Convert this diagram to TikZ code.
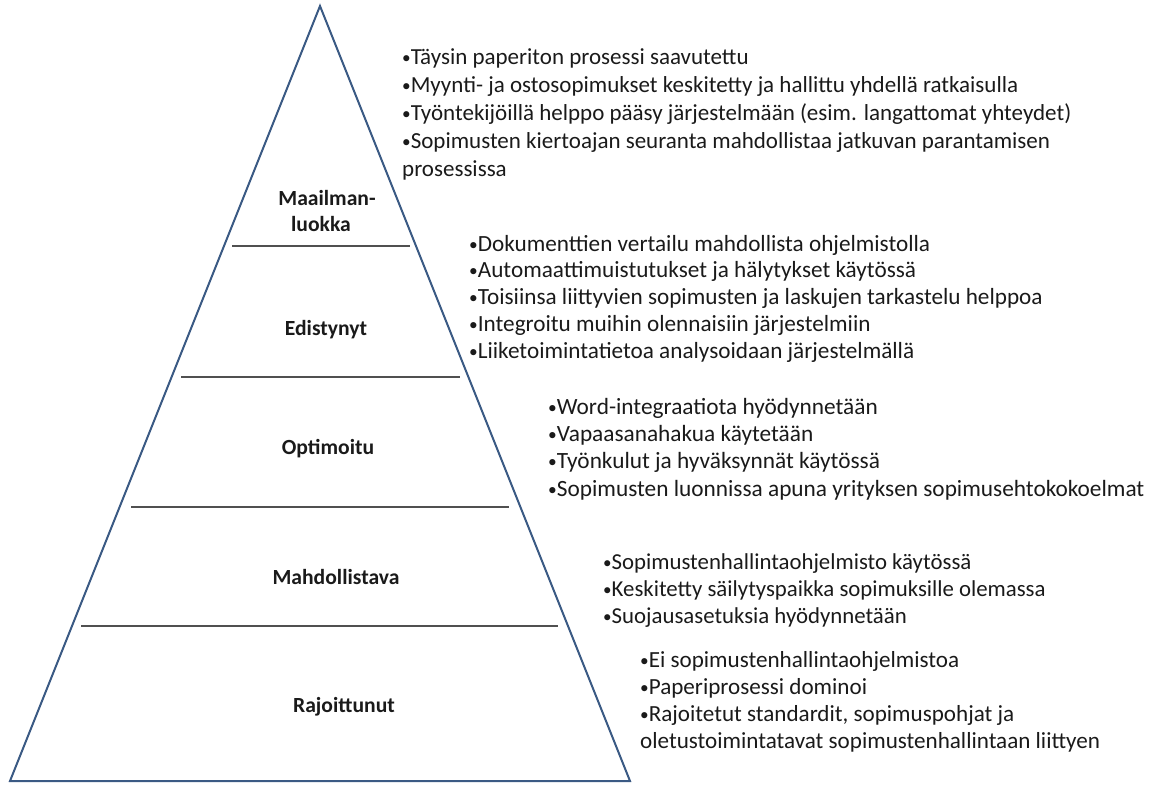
\documentclass[tikz,border=0pt]{standalone}
\usepackage{fontspec}
\usepackage{graphicx}
\setmainfont{Carlito}
\definecolor{tri}{HTML}{3B5A84}
\definecolor{divc}{HTML}{505050}
\definecolor{txt}{HTML}{1A1A1A}
\newcommand\bul{\raisebox{0.05ex}{\scalebox{0.75}{•}}}
\begin{document}
\begin{tikzpicture}[x=1pt,y=-1pt,
  lvl/.style={font=\fontsize{21.6}{25}\selectfont\bfseries, text=txt, inner sep=0, anchor=base},
  itemA/.style={font=\fontsize{23}{27}\selectfont, text=txt, inner sep=0, anchor=base west},
  itemB/.style={font=\fontsize{23.2}{27}\selectfont, text=txt, inner sep=0, anchor=base west},
  itemC/.style={font=\fontsize{23.3}{27}\selectfont, text=txt, inner sep=0, anchor=base west},
  itemD/.style={font=\fontsize{22.8}{27}\selectfont, text=txt, inner sep=0, anchor=base west},
  itemE/.style={font=\fontsize{23.1}{27}\selectfont, text=txt, inner sep=0, anchor=base west},
  divline/.style={draw=divc, line width=2.2pt},
]
\useasboundingbox (0,0) rectangle (1151,785);
\coordinate (apex) at (320,6);
\coordinate (bl) at (10,781);
\coordinate (br) at (630,781);
\draw[tri, line width=2pt, line join=miter] (apex) -- (br) -- (bl) -- cycle;
\coordinate (d1l) at (232,246); \coordinate (d1r) at (410,246);
\coordinate (d2l) at (181,377); \coordinate (d2r) at (460,377);
\coordinate (d3l) at (131,507); \coordinate (d3r) at (509,507);
\coordinate (d4l) at (81,626);  \coordinate (d4r) at (558,626);
\draw[divline] (d1l) -- (d1r);
\draw[divline] (d2l) -- (d2r);
\draw[divline] (d3l) -- (d3r);
\draw[divline] (d4l) -- (d4r);
% level labels
\node[lvl] (l5a) at (327,205) {Maailman-};
\node[lvl] (l5b) at (321,231) {luokka};
\node[lvl] (l4) at (326,335) {Edistynyt};
\node[lvl] (l3) at (328,454) {Optimoitu};
\node[lvl] (l2) at (336,584) {Mahdollistava};
\node[lvl] (l1) at (344,712) {Rajoittunut};
% block 1
\node[itemA] (a1) at (402,64) {\bul Täysin paperiton prosessi saavutettu};
\node[itemA] (a2) at (402,92) {\bul Myynti- ja ostosopimukset  keskitetty ja hallittu yhdellä ratkaisulla};
\node[itemA] (a3) at (402,120) {\bul Työntekijöillä helppo pääsy järjestelmään (esim. langattomat yhteydet)};
\node[itemA] (a4) at (402,148) {\bul Sopimusten kiertoajan seuranta mahdollistaa  jatkuvan parantamisen};
\node[itemA] (a5) at (402,176) {prosessissa};
% block 2
\node[itemB] (b1) at (469,251) {\bul Dokumenttien  vertailu mahdollista ohjelmistolla};
\node[itemB] (b2) at (469,277) {\bul Automaattimuistutukset  ja hälytykset käytössä};
\node[itemB] (b3) at (469,304) {\bul Toisiinsa liittyvien sopimusten ja laskujen tarkastelu helppoa};
\node[itemB] (b4) at (469,331) {\bul Integroitu muihin olennaisiin järjestelmiin};
\node[itemB] (b5) at (469,358) {\bul Liiketoimintatietoa analysoidaan järjestelmällä};
% block 3
\node[itemC] (c1) at (548,414) {\bul Word-integraatiota hyödynnetään};
\node[itemC] (c2) at (548,441) {\bul Vapaasanahakua käytetään};
\node[itemC] (c3) at (548,468) {\bul Työnkulut ja hyväksynnät käytössä};
\node[itemC] (c4) at (548,496) {\bul Sopimusten luonnissa apuna yrityksen sopimusehtokokoelmat};
% block 4
\node[itemD] (e1) at (603,569) {\bul Sopimustenhallintaohjelmisto  käytössä};
\node[itemD] (e2) at (603,596) {\bul Keskitetty säilytyspaikka sopimuksille olemassa};
\node[itemD] (e3) at (603,623) {\bul Suojausasetuksia hyödynnetään};
% block 5
\node[itemE] (f1) at (640,667) {\bul Ei sopimustenhallintaohjelmistoa};
\node[itemE] (f2) at (640,694) {\bul Paperiprosessi dominoi};
\node[itemE] (f3) at (640,721) {\bul Rajoitetut standardit, sopimuspohjat ja};
\node[itemE] (f4) at (640,748) {oletustoimintatavat sopimustenhallintaan liittyen};
\end{tikzpicture}
\end{document}
